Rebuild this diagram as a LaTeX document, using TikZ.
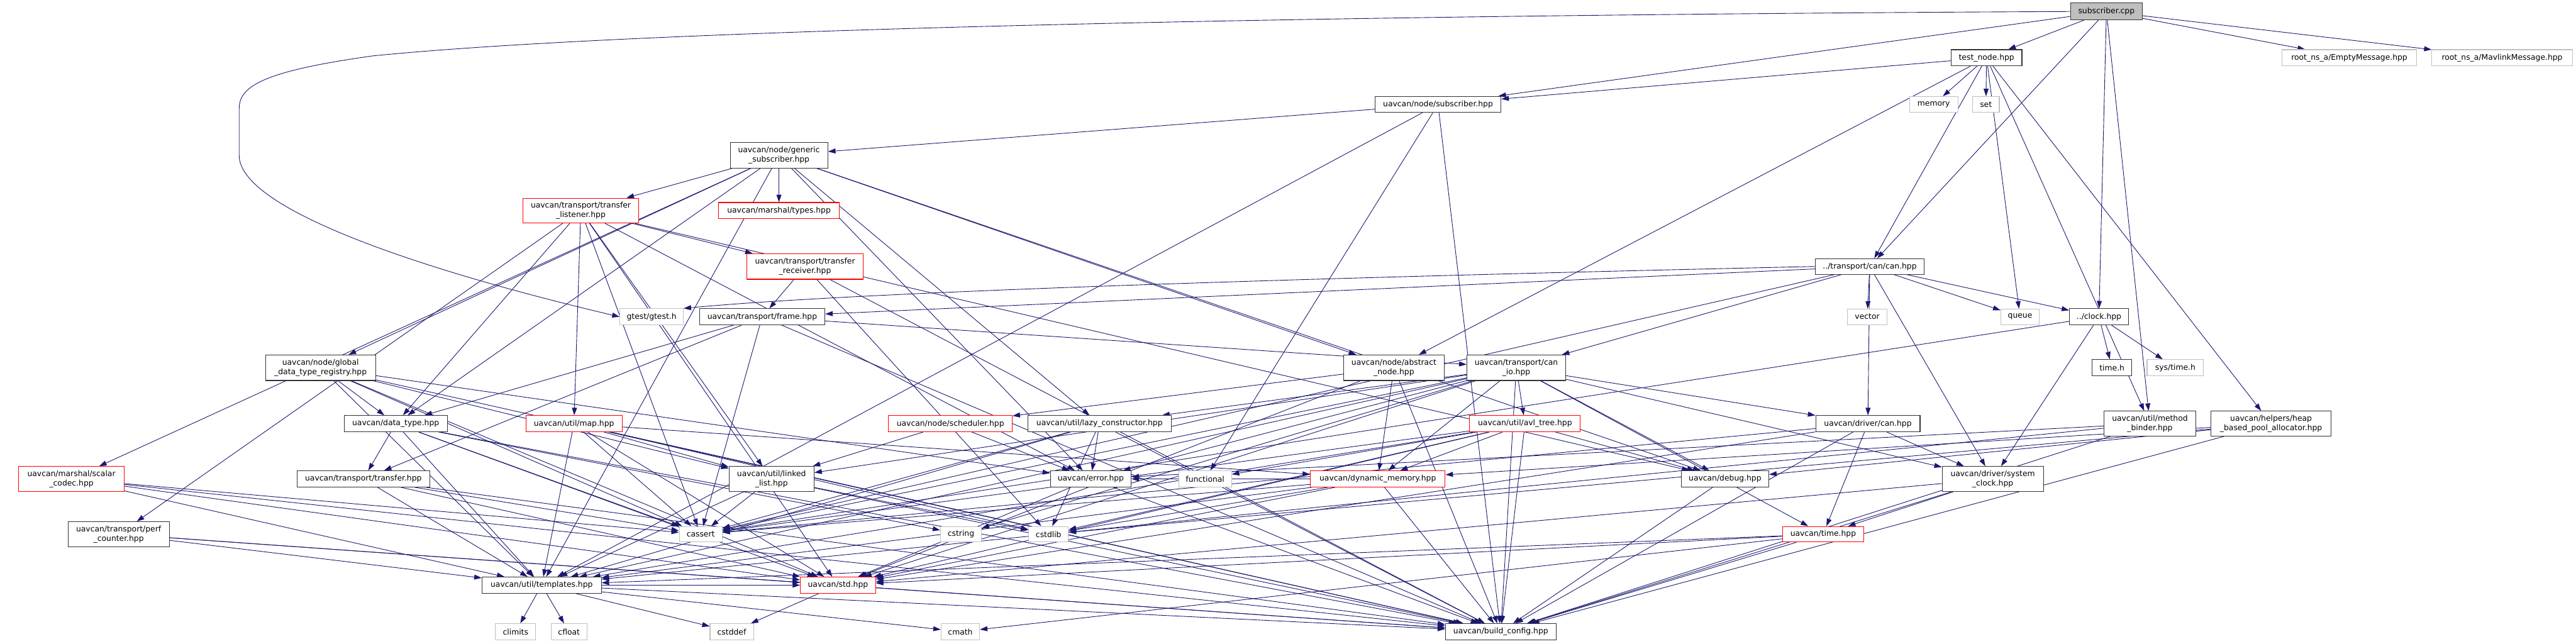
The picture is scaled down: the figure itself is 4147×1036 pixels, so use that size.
\documentclass[tikz,border=0pt]{standalone}
\usepackage{fontspec}
\setmainfont{DejaVu Sans}
\usetikzlibrary{arrows.meta}
\definecolor{edgec}{HTML}{191970}
\definecolor{grayc}{HTML}{BFBFBF}
\definecolor{darkb}{HTML}{333333}
\pgfdeclarelayer{back}\pgfdeclarelayer{edges}\pgfsetlayers{back,edges,main}
\newcommand\nodefont{\fontsize{12.5}{15}\selectfont}
\tikzset{
 box/.style 2 args={draw=darkb, line width=1.1pt, fill=white, inner sep=0pt, align=center, font=\nodefont, minimum width=#1pt, minimum height=#2pt},
 gbox/.style 2 args={box={#1}{#2}, draw=grayc},
 rbox/.style 2 args={box={#1}{#2}, draw=red},
 dep/.style={draw=edgec, line width=0.9pt, -{Triangle[length=12pt,width=8pt]}},
}
\begin{document}
\begin{tikzpicture}[x=1pt,y=-1pt]
\begin{pgfonlayer}{back}
\fill[white] (0,0) rectangle (4147,1036);
\end{pgfonlayer}
\useasboundingbox (0,0) rectangle (4147,1036);
% nodes
\node[box={116}{27}, fill=grayc] (S) at (3391,18.5) {subscriber.cpp};
\node[box={114}{26}] (testnode) at (3198,93) {test\_node.hpp};
\node[gbox={217}{26}] (empty) at (3782,93) {root\_ns\_a/EmptyMessage.hpp};
\node[gbox={226}{26}] (mavlink) at (4028,93) {root\_ns\_a/MavlinkMessage.hpp};
\node[gbox={78}{25}] (memory) at (3113,168) {memory};
\node[gbox={43}{25}] (set) at (3197,168) {set};
\node[box={203}{26}] (subhpp) at (2315,168) {uavcan/node/subscriber.hpp};
\node[box={157}{41}] (generic) at (1254,250) {uavcan/node/generic\\\_subscriber.hpp};
\node[rbox={187}{40}] (listener) at (935,339) {uavcan/transport/transfer\\\_listener.hpp};
\node[rbox={195}{26}] (types) at (1254,339) {uavcan/marshal/types.hpp};
\node[rbox={187}{41}] (receiver) at (1296,429) {uavcan/transport/transfer\\\_receiver.hpp};
\node[gbox={102}{26}] (gtest) at (1049,510) {gtest/gtest.h};
\node[box={202}{26}] (frame) at (1227,510) {uavcan/transport/frame.hpp};
\node[box={175}{25}] (canhpp) at (3010,429) {../transport/can/can.hpp};
\node[gbox={63}{25}] (vector) at (3006,510) {vector};
\node[gbox={62}{25}] (queue) at (3252,510) {queue};
\node[box={95}{26}] (clock) at (3379,510) {../clock.hpp};
\node[box={64}{26}] (timeh) at (3400,592) {time.h};
\node[gbox={91}{26}] (systime) at (3502,592) {sys/time.h};
\node[box={147}{40}] (binder) at (3461,682) {uavcan/util/method\\\_binder.hpp};
\node[box={194}{40}] (heap) at (3656,682) {uavcan/helpers/heap\\\_based\_pool\_allocator.hpp};
\node[box={162}{41}] (abstract) at (2244,592) {uavcan/node/abstract\\\_node.hpp};
\node[box={159}{41}] (canio) at (2441,592) {uavcan/transport/can\\\_io.hpp};
\node[box={177}{41}] (globalreg) at (516,592) {uavcan/node/global\\\_data\_type\_registry.hpp};
\node[box={166}{26}] (datatype) at (637,682) {uavcan/data\_type.hpp};
\node[rbox={155}{26}] (map) at (924,682) {uavcan/util/map.hpp};
\node[rbox={199}{26}] (scheduler) at (1530,682) {uavcan/node/scheduler.hpp};
\node[box={231}{26}] (lazy) at (1770,682) {uavcan/util/lazy\_constructor.hpp};
\node[rbox={178}{26}] (avl) at (2455,682) {uavcan/util/avl\_tree.hpp};
\node[box={168}{26}] (drivercan) at (3007,682) {uavcan/driver/can.hpp};
\node[rbox={170}{40}] (scalar) at (115,771) {uavcan/marshal/scalar\\\_codec.hpp};
\node[box={214}{26}] (transfer) at (585,771) {uavcan/transport/transfer.hpp};
\node[box={163}{40}] (perf) at (191,860) {uavcan/transport/perf\\\_counter.hpp};
\node[box={192}{26}] (templates) at (872,942) {uavcan/util/templates.hpp};
\node[gbox={65}{26}] (climits) at (830,1017) {climits};
\node[gbox={58}{26}] (cfloat) at (916,1017) {cfloat};
\node[box={137}{40}] (linkedlist) at (1242,771) {uavcan/util/linked\\\_list.hpp};
\node[box={130}{26}] (error) at (1756,771) {uavcan/error.hpp};
\node[gbox={85}{26}] (functional) at (1940,771) {functional};
\node[gbox={69}{25}] (cassert) at (1128,860) {cassert};
\node[gbox={66}{25}] (cstring) at (1547,860) {cstring};
\node[gbox={64}{25}] (cstdlib) at (1688,860) {cstdlib};
\node[rbox={121}{26}] (std) at (1349,942) {uavcan/std.hpp};
\node[gbox={70}{26}] (cstddef) at (1178,1017) {cstddef};
\node[gbox={62}{26}] (cmath) at (1546,1017) {cmath};
\node[rbox={217}{26}] (dynmem) at (2218,771) {uavcan/dynamic\_memory.hpp};
\node[box={141}{26}] (debug) at (2777,771) {uavcan/debug.hpp};
\node[rbox={130}{25}] (timehpp) at (2935,860) {uavcan/time.hpp};
\node[box={178}{26}] (buildcfg) at (2416,1017) {uavcan/build\_config.hpp};
\node[box={163}{40}] (sysclock) at (3208,771) {uavcan/driver/system\\\_clock.hpp};
% edges
\begin{pgfonlayer}{edges}
\draw[dep] (S.west) .. controls (2000,25) and (1000,50) .. (600,90) .. controls (420,115) and (385,140) .. (385,175) -- (385,250) .. controls (385,340) and (700,440) .. (gtest.west);
\draw[dep] (canhpp.west) .. controls (2200,445) and (1400,468) .. (gtest.north east);
\foreach \t in {subhpp,testnode,empty,mavlink,canhpp,clock,binder} \draw[dep] (S) -- (\t);
\foreach \t in {subhpp,memory,set,queue,canhpp,abstract,binder,heap} \draw[dep] (testnode) -- (\t);
\foreach \t in {generic,functional,buildcfg,templates} \draw[dep] (subhpp) -- (\t);
\foreach \t in {listener,types,abstract,globalreg,datatype,lazy,scalar,error,debug,templates} \draw[dep] (generic) -- (\t);
\foreach \t in {receiver,perf,map,datatype,error,debug,linkedlist,cassert,std} \draw[dep] (listener) -- (\t);
\foreach \t in {frame,cstdlib,buildcfg} \draw[dep] (receiver) -- (\t);
\foreach \t in {transfer,datatype,canio,cassert,buildcfg} \draw[dep] (frame) -- (\t);
\foreach \t in {frame,canio,vector,queue,clock,drivercan,sysclock,cassert} \draw[dep] (canhpp) -- (\t);
\foreach \t in {timeh,systime,sysclock,cassert} \draw[dep] (clock) -- (\t);
\foreach \t in {scheduler,dynmem,buildcfg,std} \draw[dep] (abstract) -- (\t);
\foreach \t in {avl,drivercan,dynmem,linkedlist,lazy,error,cassert,cstring,std,templates,buildcfg,timehpp,sysclock,debug} \draw[dep] (canio) -- (\t);
\foreach \t in {dynmem,debug,buildcfg,templates,functional,cstdlib,cassert,std} \draw[dep] (avl) -- (\t);
\foreach \t in {sysclock,timehpp,cassert,std,buildcfg} \draw[dep] (drivercan) -- (\t);
\foreach \t in {timehpp,std,buildcfg} \draw[dep] (sysclock) -- (\t);
\foreach \t in {std,templates,buildcfg,cmath} \draw[dep] (timehpp) -- (\t);
\foreach \t in {std,templates,error,buildcfg,cassert,cstdlib} \draw[dep] (dynmem) -- (\t);
\foreach \t in {buildcfg} \draw[dep] (debug) -- (\t);
\foreach \t in {std,buildcfg} \draw[dep] (error) -- (\t);
\foreach \t in {cstdlib,error,templates,buildcfg,cassert} \draw[dep] (lazy) -- (\t);
\foreach \t in {error,linkedlist} \draw[dep] (scheduler) -- (\t);
\foreach \t in {datatype,linkedlist,error,cassert,std,templates,buildcfg} \draw[dep] (globalreg) -- (\t);
\foreach \t in {transfer,cassert,cstring,std,buildcfg,templates} \draw[dep] (datatype) -- (\t);
\foreach \t in {linkedlist,dynmem,cassert,cstdlib,std,buildcfg,templates} \draw[dep] (map) -- (\t);
\foreach \t in {templates,cassert,std,buildcfg} \draw[dep] (transfer) -- (\t);
\foreach \t in {templates,std,buildcfg,cassert} \draw[dep] (scalar) -- (\t);
\foreach \t in {templates,std,buildcfg} \draw[dep] (perf) -- (\t);
\foreach \t in {climits,cfloat,cstddef,cmath,std,buildcfg} \draw[dep] (templates) -- (\t);
\foreach \t in {cassert,templates,buildcfg,cstdlib} \draw[dep] (linkedlist) -- (\t);
\foreach \t in {cstddef,buildcfg} \draw[dep] (std) -- (\t);
\foreach \t in {error,templates,buildcfg} \draw[dep] (binder) -- (\t);
\foreach \t in {dynmem,debug,cstdlib,buildcfg} \draw[dep] (heap) -- (\t);
\end{pgfonlayer}
\end{tikzpicture}
\end{document}
